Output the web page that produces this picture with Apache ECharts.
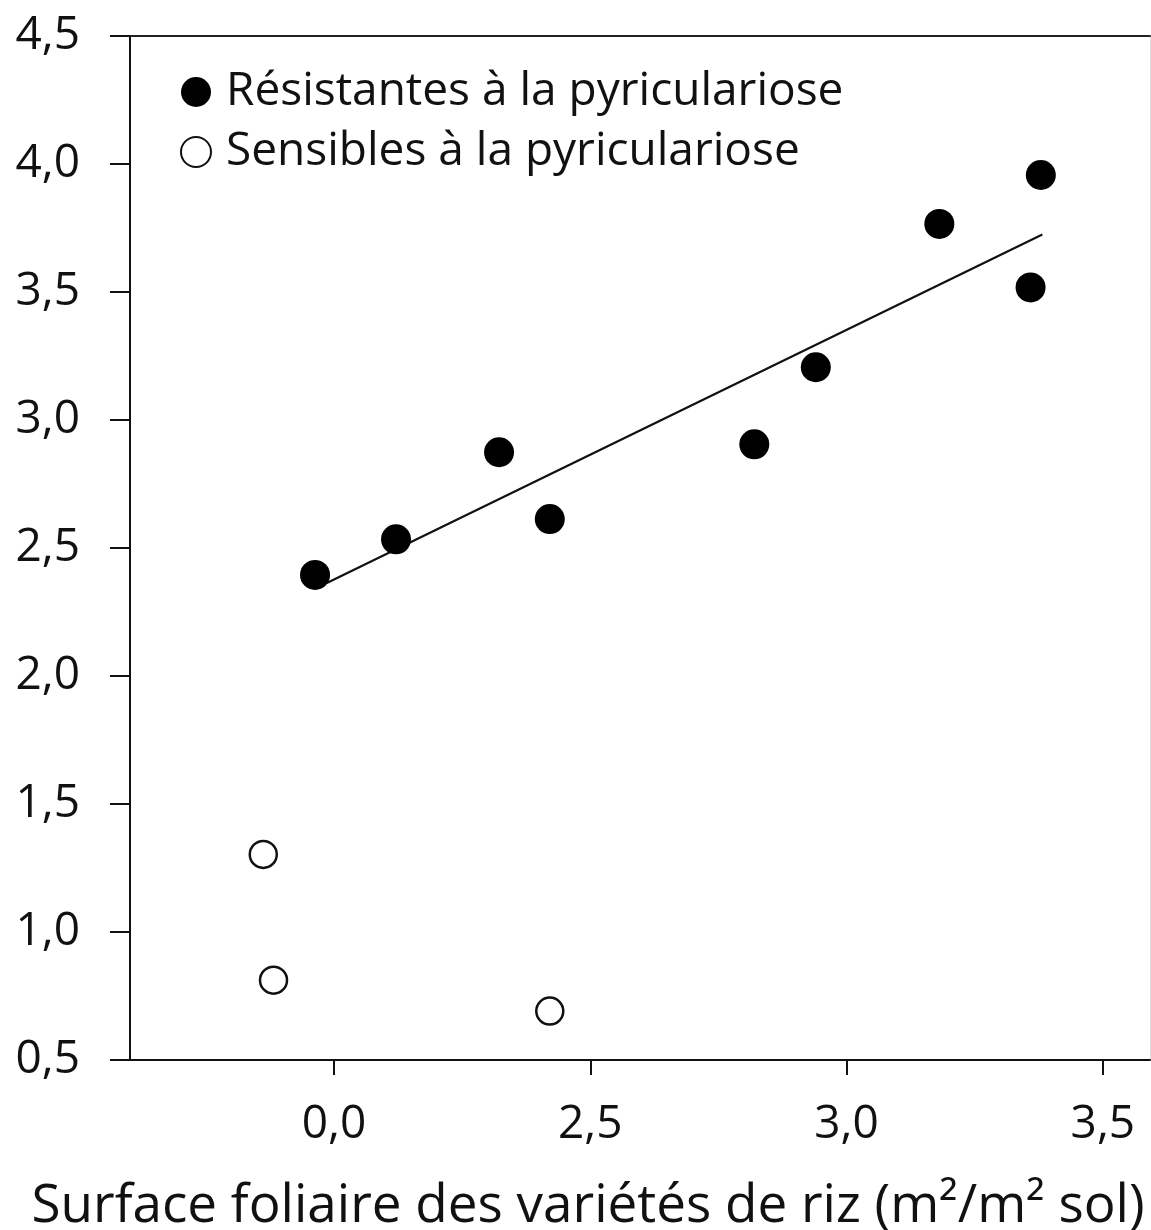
<!DOCTYPE html>
<html><head><meta charset="utf-8">
<script src="https://cdn.jsdelivr.net/npm/echarts@6/dist/echarts.min.js"></script>
<style>html,body{margin:0;padding:0;background:#fff}#c{width:1151px;height:1230px}</style>
</head><body><div id="c"></div>
<script>
// Data
const resistantName = 'Résistantes à la pyriculariose';
const sensitiveName = 'Sensibles à la pyriculariose';
const resistantX = [1.963, 2.121, 2.322, 2.421, 2.820, 2.940, 3.181, 3.359, 3.379];
const resistantY = [2.395, 2.534, 2.874, 2.613, 2.905, 3.206, 3.766, 3.518, 3.957];
const sensitiveX = [1.862, 1.882, 2.421];
const sensitiveY = [1.303, 0.812, 0.691];
const trendX = [1.986, 3.382];
const trendY = [2.363, 3.725];
const xTickValues = [2.0, 2.5, 3.0, 3.5];
const xTickLabels = ['0,0', '2,5', '3,0', '3,5'];
const xAxisTitle = 'Surface foliaire des variétés de riz (m²/m² sol)';

const FONT = 'Open Sans';
const zip = (xs, ys) => xs.map((x, i) => [x, ys[i]]);

const chart = echarts.init(document.getElementById('c'), null, {renderer: 'canvas'});
chart.setOption({
  animation: false,
  backgroundColor: '#fff',
  grid: {left: 130, right: 1, top: 36, bottom: 170, containLabel: false},
  xAxis: [{
    type: 'value', min: 1.602, max: 3.592, position: 'bottom',
    axisLine: {show: true, lineStyle: {color: '#111', width: 2}},
    axisTick: {show: true, inside: false, length: 15, lineStyle: {color: '#111', width: 2}, customValues: xTickValues},
    axisLabel: {
      show: true, customValues: xTickValues, margin: 42,
      fontFamily: FONT, fontSize: 46, color: '#111',
      formatter: v => { const i = xTickValues.findIndex(t => Math.abs(t - v) < 1e-6); return i >= 0 ? xTickLabels[i] : ''; }
    },
    splitLine: {show: false}
  }, {
    type: 'value', min: 1.602, max: 3.592, position: 'top',
    axisLine: {show: true, onZero: false, lineStyle: {color: '#222', width: 2}},
    axisTick: {show: false}, axisLabel: {show: false}, splitLine: {show: false}
  }],
  yAxis: [{
    type: 'value', min: 0.5, max: 4.5, interval: 0.5,
    axisLine: {show: true, onZero: false, lineStyle: {color: '#111', width: 2}},
    axisTick: {show: true, inside: false, length: 20, lineStyle: {color: '#111', width: 2}},
    axisLabel: {
      margin: 50, fontFamily: FONT, fontSize: 46, color: '#111',
      formatter: v => v.toFixed(1).replace('.', ',')
    },
    splitLine: {show: false}
  }, {
    type: 'value', min: 0.5, max: 4.5, position: 'right',
    axisLine: {show: true, onZero: false, lineStyle: {color: '#ddd', width: 1}},
    axisTick: {show: false}, axisLabel: {show: false}, splitLine: {show: false}
  }],
  legend: {
    orient: 'vertical', left: 175, top: 64,
    itemWidth: 30, itemHeight: 30, itemGap: 14,
    textStyle: {fontFamily: FONT, fontSize: 46, color: '#111', lineHeight: 46, padding: [0, 0, 0, 10]},
    data: [{name: resistantName, icon: 'circle'}, {name: sensitiveName, icon: 'circle'}]
  },
  graphic: [{
    type: 'text', x: 588, y: 1180,
    style: {text: xAxisTitle, fontFamily: FONT, fontSize: 53, fill: '#111', align: 'center', verticalAlign: 'top'}
  }],
  series: [{
    type: 'line', name: 'trend', data: zip(trendX, trendY),
    symbol: 'none', lineStyle: {color: '#111', width: 2.2}, z: 1, silent: true
  }, {
    type: 'scatter', name: resistantName, data: zip(resistantX, resistantY),
    symbol: 'circle', symbolSize: 30, itemStyle: {color: '#000', opacity: 1}, z: 3
  }, {
    type: 'scatter', name: sensitiveName, data: zip(sensitiveX, sensitiveY),
    symbol: 'circle', symbolSize: 27, itemStyle: {color: '#fff', borderColor: '#111', borderWidth: 2.5, opacity: 1}, z: 3
  }]
});
</script>
</body></html>
